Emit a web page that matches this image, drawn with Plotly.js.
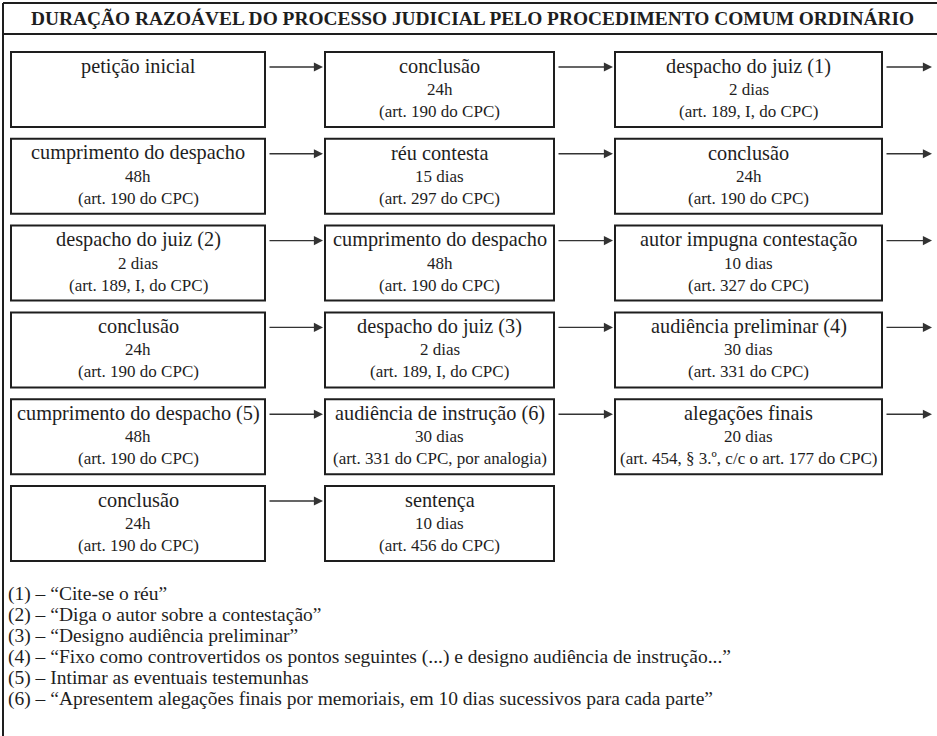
<!DOCTYPE html>
<html>
<head>
<meta charset="utf-8">
<script src="https://cdn.plot.ly/plotly-3.0.1.min.js"></script>
<style>html,body{margin:0;padding:0;background:#fff;}#chart{width:937px;height:736px;}</style>
</head>
<body>
<div id="chart"></div>
<script>
// ---- content ----
const chartTitle = 'DURAÇÃO RAZOÁVEL DO PROCESSO JUDICIAL PELO PROCEDIMENTO COMUM ORDINÁRIO';

const stepNames = [
  'petição inicial', 'conclusão', 'despacho do juiz (1)',
  'cumprimento do despacho', 'réu contesta', 'conclusão',
  'despacho do juiz (2)', 'cumprimento do despacho', 'autor impugna contestação',
  'conclusão', 'despacho do juiz (3)', 'audiência preliminar (4)',
  'cumprimento do despacho (5)', 'audiência de instrução (6)', 'alegações finais',
  'conclusão', 'sentença'
];
const stepDurations = [
  '', '24h', '2 dias',
  '48h', '15 dias', '24h',
  '2 dias', '48h', '10 dias',
  '24h', '2 dias', '30 dias',
  '48h', '30 dias', '20 dias',
  '24h', '10 dias'
];
const stepArticles = [
  '', '(art. 190 do CPC)', '(art. 189, I, do CPC)',
  '(art. 190 do CPC)', '(art. 297 do CPC)', '(art. 190 do CPC)',
  '(art. 189, I, do CPC)', '(art. 190 do CPC)', '(art. 327 do CPC)',
  '(art. 190 do CPC)', '(art. 189, I, do CPC)', '(art. 331 do CPC)',
  '(art. 190 do CPC)', '(art. 331 do CPC, por analogia)', '(art. 454, § 3.º, c/c o art. 177 do CPC)',
  '(art. 190 do CPC)', '(art. 456 do CPC)'
];
const footnotes = [
  '(1) – “Cite-se o réu”',
  '(2) – “Diga o autor sobre a contestação”',
  '(3) – “Designo audiência preliminar”',
  '(4) – “Fixo como controvertidos os pontos seguintes (...) e designo audiência de instrução...”',
  '(5) – Intimar as eventuais testemunhas',
  '(6) – “Apresentem alegações finais por memoriais, em 10 dias sucessivos para cada parte”'
];

// ---- layout grid (pixel-space axes) ----
const W = 937, H = 736;
const perRow = 3;
const colX0 = [11, 325, 615];
const colX1 = [265, 554, 882];
const rowTop0 = 52, rowStep = 86.8, boxH = 75;
const arrowEndX = 932;
const FONT = '"Liberation Serif", "DejaVu Serif", serif';
const INK = '#1e1e1e';

const shapes = [];
const annotations = [];

// outer frame: left border, top border, title separator
shapes.push({type:'line', xref:'x', yref:'y', x0:3, x1:3, y0:3, y1:H, line:{color:INK, width:2}});
shapes.push({type:'line', xref:'x', yref:'y', x0:3, x1:W, y0:3, y1:3, line:{color:INK, width:2}});
shapes.push({type:'line', xref:'x', yref:'y', x0:3, x1:W, y0:34, y1:34, line:{color:INK, width:2}});

annotations.push({xref:'x', yref:'y', x:472, y:18, text:'<b>'+chartTitle+'</b>', showarrow:false,
  xanchor:'center', yanchor:'middle', font:{family:FONT, size:19.4, color:INK}});

stepNames.forEach((name, i) => {
  const r = Math.floor(i / perRow), c = i % perRow;
  const x0 = colX0[c], x1 = colX1[c];
  const top = rowTop0 + r * rowStep;
  const cx = (x0 + x1) / 2;
  shapes.push({type:'rect', xref:'x', yref:'y', x0:x0, x1:x1, y0:top, y1:top + boxH,
    line:{color:INK, width:2}, fillcolor:'rgba(0,0,0,0)'});
  annotations.push({xref:'x', yref:'y', x:cx, y:top + 14, text:name, showarrow:false,
    xanchor:'center', yanchor:'middle', font:{family:FONT, size:20.3, color:INK}});
  if (stepDurations[i]) annotations.push({xref:'x', yref:'y', x:cx, y:top + 37.5, text:stepDurations[i], showarrow:false,
    xanchor:'center', yanchor:'middle', font:{family:FONT, size:17, color:INK}});
  if (stepArticles[i]) annotations.push({xref:'x', yref:'y', x:cx, y:top + 59.5, text:stepArticles[i], showarrow:false,
    xanchor:'center', yanchor:'middle', font:{family:FONT, size:17, color:INK}});
  // arrow to next step (or off to the right at the end of a row)
  if (i < stepNames.length - 1) {
    const tailX = x1 + 3;
    const headX = (c < perRow - 1) ? colX0[c + 1] - 2 : arrowEndX;
    const ay = top + 15;
    annotations.push({xref:'x', yref:'y', axref:'x', ayref:'y', x:headX, y:ay, ax:tailX, ay:ay,
      text:'', showarrow:true, arrowhead:2, arrowsize:1.3, arrowwidth:1.4, arrowcolor:'#333'});
  }
});

footnotes.forEach((t, k) => {
  annotations.push({xref:'x', yref:'y', x:6, y:594 + k * 21, text:t, showarrow:false,
    xanchor:'left', yanchor:'middle', font:{family:FONT, size:19.5, color:INK}});
});

const layout = {
  width: W, height: H,
  margin: {l:0, r:0, t:0, b:0, pad:0},
  paper_bgcolor:'#fff', plot_bgcolor:'#fff',
  showlegend:false,
  xaxis: {range:[0, W], visible:false, fixedrange:true},
  yaxis: {range:[H, 0], visible:false, fixedrange:true},
  shapes: shapes,
  annotations: annotations
};

Plotly.newPlot('chart', [{x:[], y:[], type:'scatter', mode:'markers', hoverinfo:'skip'}], layout, {staticPlot:true, displayModeBar:false});
</script>
</body>
</html>
